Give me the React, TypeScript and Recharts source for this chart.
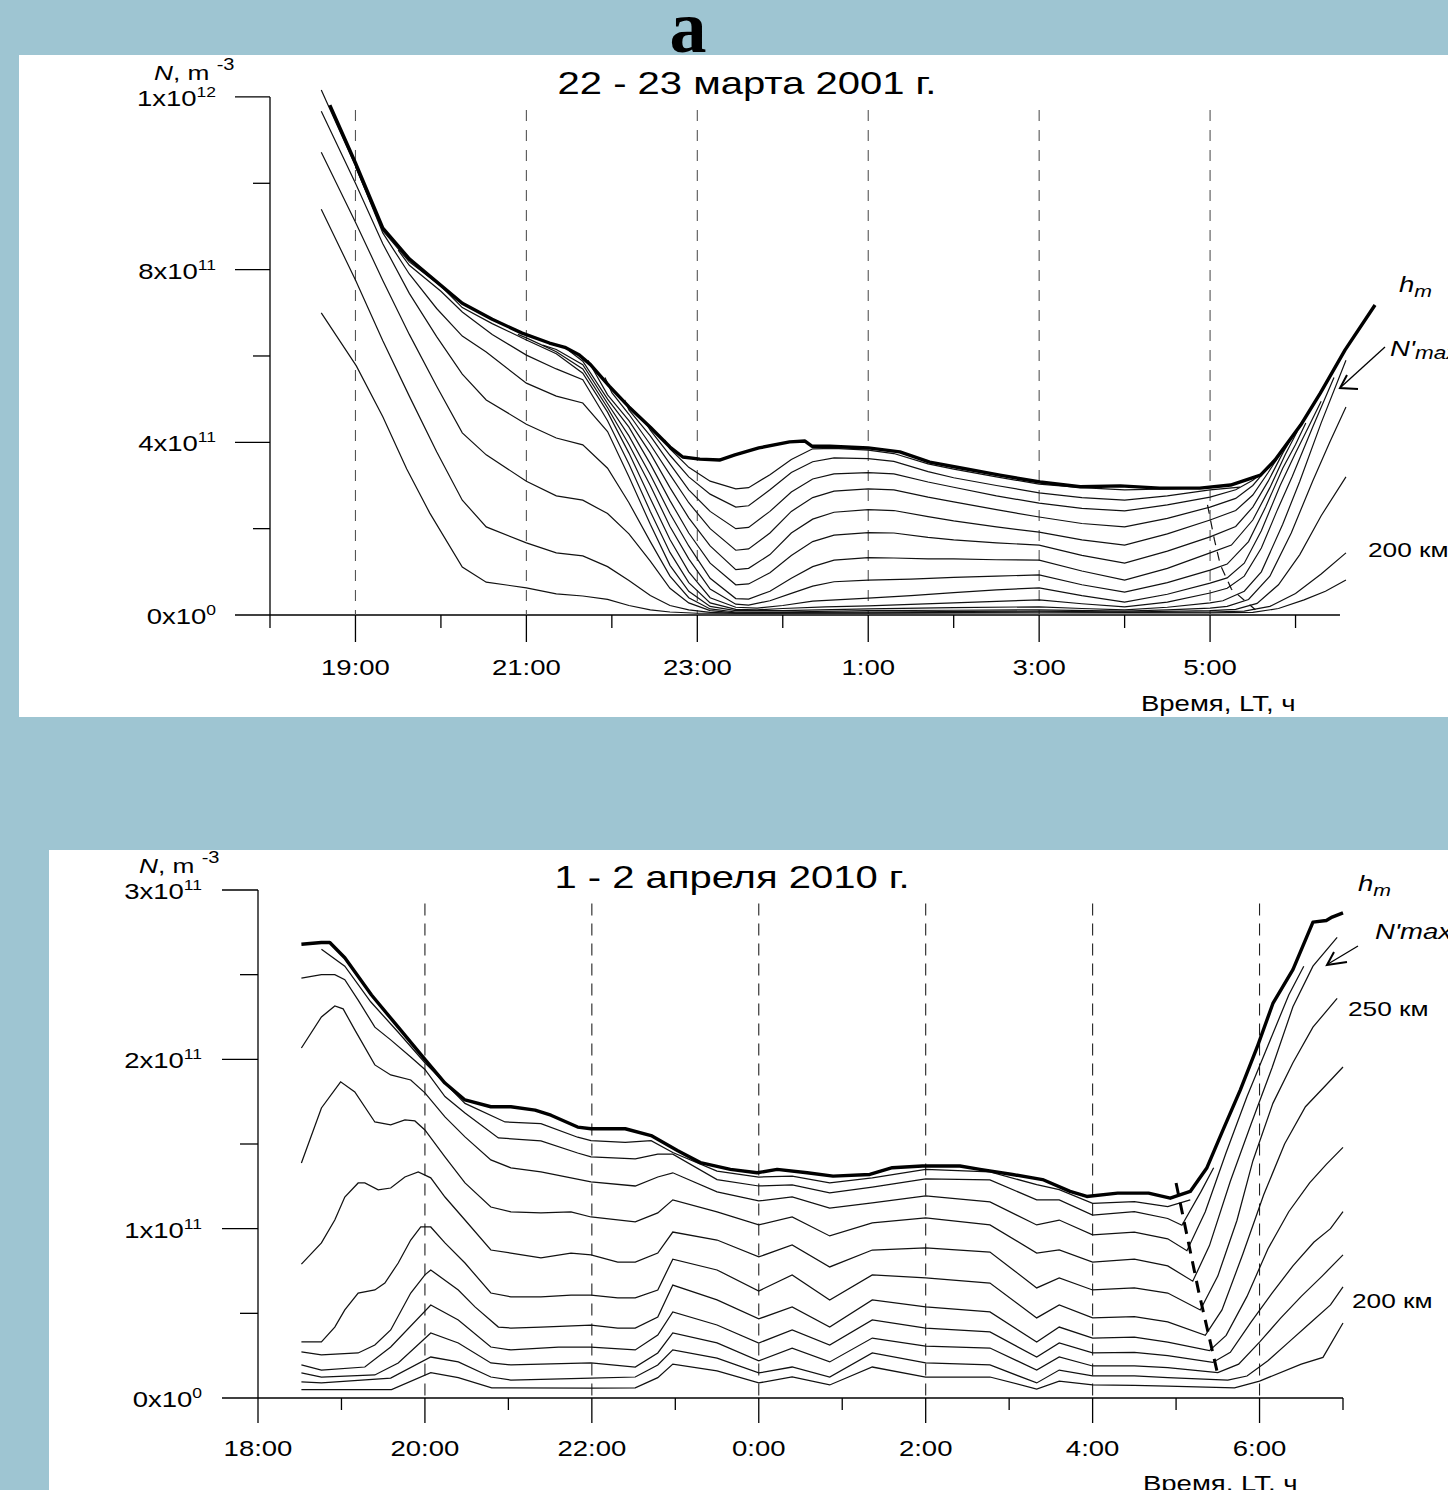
import React from "react";
import { LineChart, Line, XAxis, YAxis, ReferenceLine } from "recharts";

// values in units of 1e11 m^-3, time in hours after midnight of the first day (25 = 1:00)
const TOP_HM = [[18.7,11.81],[19.0,10.47],[19.32,8.96],[19.63,8.25],[19.87,7.85],[20.25,7.22],[20.6,6.85],[20.95,6.53],[21.27,6.3],[21.45,6.2],[21.62,6.02],[21.75,5.8],[21.97,5.3],[22.2,4.82],[22.45,4.35],[22.68,3.89],[22.83,3.66],[23.03,3.61],[23.26,3.59],[23.44,3.71],[23.72,3.87],[24.08,4.01],[24.26,4.03],[24.34,3.91],[24.55,3.91],[25.0,3.87],[25.37,3.78],[25.72,3.54],[26.07,3.41],[26.54,3.24],[27.01,3.08],[27.48,2.97],[27.95,2.99],[28.41,2.94],[28.88,2.94],[29.24,3.01],[29.59,3.24],[29.76,3.59],[30.06,4.4],[30.29,5.14],[30.58,6.14],[30.93,7.18]];
const TOP_K1 = [[22.62,4.05],[22.68,3.85],[22.9,3.42],[23.15,3.1],[23.45,2.92],[23.6,2.95],[23.85,3.25],[24.1,3.6],[24.35,3.85],[24.6,3.86],[25.0,3.82],[25.3,3.74],[25.7,3.5],[26.0,3.38],[26.5,3.2],[27.0,3.03],[27.5,2.95],[28.0,2.9],[28.5,2.92],[29.0,2.95],[29.15,2.98]];
const TOP_K2 = [[22.38,4.5],[22.45,4.28],[22.68,3.7],[22.9,3.2],[23.15,2.8],[23.45,2.5],[23.6,2.53],[23.85,2.9],[24.1,3.3],[24.35,3.55],[24.6,3.64],[25.0,3.62],[25.3,3.56],[25.7,3.32],[26.0,3.18],[26.5,3.0],[27.0,2.83],[27.5,2.72],[28.0,2.66],[28.5,2.76],[29.0,2.9],[29.35,2.96]];
const TOP_K3 = [[22.15,4.98],[22.2,4.75],[22.45,4.15],[22.68,3.5],[22.9,2.9],[23.15,2.4],[23.45,2.0],[23.6,2.03],[23.85,2.4],[24.1,2.85],[24.35,3.15],[24.6,3.27],[25.0,3.3],[25.3,3.27],[25.7,3.08],[26.0,2.96],[26.5,2.76],[27.0,2.59],[27.5,2.47],[28.0,2.41],[28.5,2.55],[29.0,2.73],[29.3,2.9],[29.5,3.12],[29.7,3.43]];
const TOP_K4 = [[21.92,5.5],[22.0,5.15],[22.2,4.65],[22.45,3.95],[22.68,3.25],[22.9,2.6],[23.15,2.0],[23.45,1.5],[23.6,1.53],[23.85,1.9],[24.1,2.4],[24.35,2.72],[24.6,2.87],[25.0,2.92],[25.3,2.9],[25.7,2.73],[26.0,2.62],[26.5,2.44],[27.0,2.27],[27.5,2.12],[28.0,2.04],[28.5,2.24],[29.0,2.5],[29.3,2.7],[29.5,3.0],[29.68,3.42],[29.78,3.62]];
const TOP_K5 = [[21.72,5.9],[21.95,5.1],[22.2,4.5],[22.45,3.75],[22.68,2.95],[22.9,2.25],[23.15,1.6],[23.45,1.05],[23.6,1.08],[23.85,1.4],[24.1,1.9],[24.35,2.22],[24.6,2.38],[25.0,2.44],[25.3,2.42],[25.7,2.28],[26.0,2.18],[26.5,2.04],[27.0,1.92],[27.5,1.74],[28.0,1.62],[28.5,1.88],[29.0,2.2],[29.3,2.42],[29.5,2.78],[29.68,3.3],[29.85,3.82]];
const TOP_K6 = [[21.5,6.12],[21.66,5.88],[21.95,5.0],[22.2,4.35],[22.45,3.5],[22.68,2.65],[22.9,1.9],[23.15,1.2],[23.45,0.7],[23.6,0.72],[23.85,0.98],[24.1,1.38],[24.35,1.7],[24.6,1.85],[25.0,1.91],[25.3,1.9],[25.7,1.8],[26.0,1.74],[26.5,1.67],[27.0,1.62],[27.5,1.38],[28.0,1.2],[28.5,1.48],[29.0,1.81],[29.3,2.05],[29.5,2.5],[29.68,3.1],[29.85,3.75],[29.93,4.02]];
const TOP_K7 = [[21.19,6.25],[21.35,6.15],[21.66,5.8],[21.95,4.9],[22.2,4.15],[22.45,3.25],[22.68,2.35],[22.9,1.6],[23.15,0.85],[23.45,0.38],[23.6,0.37],[23.85,0.55],[24.1,0.85],[24.35,1.12],[24.6,1.27],[25.0,1.33],[25.3,1.32],[25.7,1.3],[26.0,1.3],[26.5,1.28],[27.0,1.27],[27.5,1.02],[28.0,0.81],[28.5,1.08],[29.0,1.44],[29.25,1.62],[29.5,2.2],[29.7,2.95],[29.88,3.72],[30.02,4.25]];
const TOP_K8 = [[20.9,6.5],[21.0,6.42],[21.35,6.1],[21.66,5.7],[21.95,4.8],[22.2,3.95],[22.45,3.0],[22.68,2.05],[22.9,1.3],[23.15,0.6],[23.45,0.25],[23.6,0.23],[23.85,0.33],[24.1,0.5],[24.35,0.67],[24.6,0.77],[25.0,0.81],[25.5,0.83],[26.0,0.87],[26.5,0.9],[27.0,0.93],[27.5,0.7],[28.0,0.53],[28.5,0.75],[29.0,1.04],[29.2,1.18],[29.45,1.7],[29.65,2.5],[29.85,3.4],[30.0,3.95],[30.12,4.45]];
const TOP_K9 = [[19.0,10.38],[19.32,8.9],[19.63,8.18],[20.0,7.62],[20.25,7.12],[20.6,6.75],[21.0,6.37],[21.35,6.05],[21.66,5.6],[21.95,4.7],[22.2,3.75],[22.45,2.7],[22.68,1.75],[22.9,1.0],[23.15,0.4],[23.45,0.18],[23.7,0.16],[24.0,0.22],[24.35,0.32],[25.0,0.39],[25.5,0.45],[26.0,0.52],[26.5,0.58],[27.0,0.63],[27.5,0.45],[28.0,0.3],[28.5,0.48],[29.0,0.74],[29.2,0.86],[29.4,1.2],[29.6,1.95],[29.82,3.0],[30.0,3.75],[30.15,4.35],[30.3,4.95]];
const TOP_K10 = [[19.5,8.45],[19.63,8.1],[20.0,7.5],[20.25,7.02],[20.6,6.5],[21.0,6.02],[21.35,5.7],[21.66,5.45],[21.95,4.5],[22.2,3.5],[22.45,2.4],[22.68,1.45],[22.9,0.75],[23.15,0.28],[23.45,0.13],[23.7,0.12],[24.0,0.15],[24.5,0.19],[25.0,0.21],[26.0,0.28],[27.0,0.35],[27.5,0.26],[28.0,0.19],[28.5,0.3],[29.0,0.51],[29.2,0.62],[29.4,0.9],[29.6,1.55],[29.78,2.4],[29.96,3.2],[30.2,4.35],[30.45,5.5]];
const TOP_K11 = [[18.6,12.16],[19.0,10.4],[19.32,8.85],[19.63,7.9],[19.95,7.1],[20.25,6.46],[20.53,6.09],[21.0,5.37],[21.35,5.07],[21.66,4.91],[21.95,4.25],[22.2,3.2],[22.45,2.1],[22.68,1.15],[22.9,0.55],[23.15,0.2],[23.45,0.1],[24.0,0.1],[25.0,0.14],[26.0,0.17],[27.0,0.19],[27.5,0.15],[28.0,0.12],[28.5,0.18],[29.0,0.28],[29.15,0.33],[29.4,0.55],[29.6,1.0],[29.85,2.1],[30.05,3.1],[30.3,4.45],[30.59,5.9]];
const TOP_K12 = [[18.6,11.67],[19.0,10.0],[19.32,8.6],[19.63,7.45],[19.95,6.45],[20.25,5.58],[20.53,4.98],[21.0,4.42],[21.35,4.1],[21.66,3.94],[21.95,3.4],[22.2,2.6],[22.45,1.7],[22.68,0.9],[22.9,0.4],[23.15,0.14],[23.45,0.07],[24.0,0.07],[25.0,0.1],[26.0,0.11],[27.0,0.12],[28.0,0.09],[28.5,0.12],[29.0,0.16],[29.2,0.2],[29.45,0.36],[29.7,0.9],[29.95,1.9],[30.2,3.1],[30.4,4.0],[30.59,4.82]];
const TOP_K13 = [[18.6,10.72],[19.0,9.1],[19.32,7.75],[19.63,6.5],[19.95,5.3],[20.25,4.22],[20.53,3.71],[21.0,3.1],[21.35,2.76],[21.66,2.66],[21.95,2.35],[22.2,1.88],[22.45,1.25],[22.68,0.62],[22.9,0.28],[23.15,0.1],[23.45,0.05],[25.0,0.07],[27.0,0.09],[28.0,0.07],[29.0,0.1],[29.3,0.13],[29.55,0.27],[29.8,0.7],[30.05,1.4],[30.3,2.3],[30.59,3.2]];
const TOP_K14 = [[18.6,9.4],[19.0,7.76],[19.32,6.35],[19.63,5.07],[19.95,3.78],[20.25,2.66],[20.53,2.04],[21.0,1.67],[21.35,1.44],[21.66,1.37],[21.95,1.12],[22.2,0.8],[22.45,0.45],[22.68,0.22],[22.9,0.12],[23.15,0.06],[23.45,0.04],[25.0,0.05],[27.0,0.07],[28.0,0.06],[29.0,0.07],[29.4,0.09],[29.7,0.2],[30.0,0.5],[30.3,0.95],[30.59,1.44]];
const TOP_K15 = [[18.6,7.0],[19.01,5.77],[19.32,4.59],[19.6,3.38],[19.87,2.36],[20.25,1.11],[20.53,0.76],[21.0,0.63],[21.35,0.49],[21.66,0.44],[21.95,0.36],[22.2,0.22],[22.45,0.12],[22.68,0.07],[23.0,0.04],[25.0,0.04],[28.0,0.05],[29.0,0.05],[29.5,0.06],[29.8,0.15],[30.1,0.35],[30.35,0.55],[30.59,0.81]];
const TOP_MIN_DASH = [[28.97,2.55],[29.05,1.75],[29.12,1.16],[29.25,0.6],[29.53,0.12]];

const BOT_HM = [[18.52,2.68],[18.76,2.69],[18.86,2.69],[19.04,2.6],[19.36,2.38],[19.68,2.19],[20.0,2.0],[20.24,1.86],[20.48,1.76],[20.79,1.72],[21.03,1.72],[21.32,1.7],[21.51,1.67],[21.83,1.6],[21.99,1.59],[22.4,1.59],[22.71,1.55],[23.03,1.46],[23.3,1.39],[23.66,1.35],[23.98,1.33],[24.22,1.35],[24.58,1.33],[24.89,1.31],[25.33,1.32],[25.6,1.36],[25.96,1.37],[26.41,1.37],[26.65,1.35],[27.04,1.32],[27.4,1.29],[27.73,1.22],[27.93,1.19],[28.3,1.21],[28.67,1.21],[28.93,1.18],[29.17,1.22],[29.37,1.36],[29.56,1.58],[29.77,1.82],[29.97,2.07],[30.16,2.33],[30.4,2.53],[30.64,2.81],[30.8,2.82],[30.87,2.84],[31.0,2.865]];
const BOT_B1 = [[18.76,2.65],[19.04,2.55],[19.35,2.34],[19.68,2.16],[20.0,1.98],[20.48,1.74],[20.96,1.63],[21.39,1.62],[21.83,1.54],[21.99,1.52],[22.4,1.51],[22.71,1.52],[22.97,1.45],[23.5,1.34],[24.0,1.305],[24.4,1.31],[24.85,1.27],[25.36,1.3],[26.0,1.35],[26.77,1.335],[27.33,1.26],[27.6,1.23],[28.0,1.15],[28.5,1.16],[28.9,1.13],[29.17,1.17]];
const BOT_B2 = [[18.52,2.48],[18.76,2.5],[18.92,2.5],[19.04,2.47],[19.2,2.35],[19.4,2.19],[19.59,2.115],[19.83,2.014],[20.0,1.94],[20.24,1.78],[20.48,1.683],[20.88,1.536],[21.39,1.518],[21.83,1.447],[21.99,1.424],[22.52,1.412],[22.79,1.44],[22.97,1.44],[23.5,1.29],[24.0,1.252],[24.4,1.258],[24.85,1.211],[25.36,1.246],[26.0,1.294],[26.77,1.288],[27.33,1.17],[27.6,1.17],[28.0,1.08],[28.5,1.1],[28.9,1.06],[29.07,1.02],[29.3,1.22],[29.45,1.36]];
const BOT_B3 = [[18.52,2.067],[18.76,2.25],[18.92,2.315],[19.02,2.298],[19.16,2.174],[19.4,1.967],[19.59,1.908],[19.83,1.878],[20.0,1.802],[20.24,1.66],[20.48,1.542],[20.79,1.406],[21.03,1.359],[21.39,1.335],[21.99,1.276],[22.52,1.252],[22.79,1.305],[22.97,1.33],[23.5,1.217],[24.0,1.164],[24.4,1.187],[24.85,1.122],[25.36,1.152],[26.0,1.193],[26.77,1.158],[27.33,1.022],[27.6,1.051],[28.0,0.963],[28.5,0.98],[28.9,0.94],[29.13,0.87],[29.35,1.1],[29.6,1.45],[29.85,1.78],[30.1,2.08],[30.35,2.38],[30.53,2.55]];
const BOT_B4 = [[18.52,1.388],[18.76,1.713],[18.99,1.867],[19.16,1.807],[19.4,1.63],[19.59,1.613],[19.76,1.642],[19.88,1.636],[20.0,1.583],[20.24,1.424],[20.48,1.27],[20.79,1.128],[21.03,1.099],[21.39,1.093],[21.75,1.099],[21.99,1.069],[22.52,1.04],[22.79,1.093],[22.97,1.17],[23.5,1.099],[24.0,1.022],[24.4,1.069],[24.85,0.957],[25.36,1.034],[26.0,1.063],[26.77,1.022],[27.33,0.856],[27.6,0.874],[28.0,0.803],[28.5,0.82],[28.9,0.78],[29.2,0.69],[29.4,0.9],[29.65,1.28],[29.9,1.62],[30.15,1.95],[30.4,2.31],[30.64,2.55],[30.93,2.72]];
const BOT_B5 = [[18.52,0.791],[18.76,0.916],[18.92,1.051],[19.04,1.187],[19.2,1.27],[19.28,1.27],[19.44,1.229],[19.59,1.24],[19.76,1.305],[19.92,1.335],[20.07,1.3],[20.24,1.187],[20.48,1.051],[20.79,0.874],[21.03,0.856],[21.39,0.827],[21.75,0.856],[21.99,0.845],[22.31,0.803],[22.52,0.803],[22.79,0.856],[22.97,0.98],[23.5,0.933],[24.0,0.833],[24.4,0.904],[24.85,0.774],[25.36,0.874],[26.0,0.886],[26.77,0.862],[27.33,0.65],[27.6,0.709],[28.0,0.638],[28.5,0.65],[28.9,0.62],[29.29,0.52],[29.5,0.72],[29.73,1.05],[29.92,1.4],[30.16,1.74],[30.4,1.98],[30.64,2.19],[30.93,2.36]];
const BOT_B6 = [[18.52,0.331],[18.76,0.331],[18.92,0.419],[19.04,0.52],[19.2,0.62],[19.4,0.638],[19.52,0.679],[19.68,0.797],[19.83,0.933],[19.95,1.01],[20.07,1.01],[20.24,0.916],[20.48,0.797],[20.79,0.62],[21.03,0.597],[21.39,0.597],[21.75,0.608],[21.99,0.608],[22.31,0.591],[22.52,0.591],[22.79,0.638],[22.97,0.82],[23.5,0.756],[24.0,0.632],[24.4,0.727],[24.85,0.579],[25.36,0.727],[26.0,0.709],[26.77,0.679],[27.33,0.473],[27.6,0.549],[28.0,0.473],[28.5,0.48],[28.9,0.45],[29.35,0.37],[29.55,0.52],[29.8,0.85],[30.05,1.2],[30.3,1.5],[30.55,1.72],[30.8,1.85],[31.0,1.955]];
const BOT_B7 = [[18.52,0.272],[18.76,0.254],[19.2,0.266],[19.4,0.313],[19.59,0.402],[19.83,0.62],[20.0,0.727],[20.07,0.756],[20.4,0.638],[20.6,0.538],[20.88,0.419],[21.03,0.413],[21.39,0.419],[21.99,0.431],[22.31,0.413],[22.52,0.413],[22.79,0.478],[22.97,0.667],[23.5,0.579],[24.0,0.467],[24.4,0.538],[24.85,0.419],[25.36,0.579],[26.0,0.538],[26.77,0.508],[27.33,0.331],[27.6,0.419],[28.0,0.354],[28.5,0.36],[28.9,0.33],[29.4,0.28],[29.6,0.37],[29.85,0.6],[30.1,0.88],[30.35,1.1],[30.6,1.27],[30.8,1.38],[31.0,1.48]];
const BOT_B8 = [[18.52,0.195],[18.76,0.165],[19.28,0.183],[19.59,0.301],[20.07,0.549],[20.4,0.461],[20.79,0.301],[21.03,0.284],[21.6,0.301],[21.99,0.301],[22.52,0.284],[22.79,0.372],[22.97,0.508],[23.5,0.431],[24.0,0.325],[24.4,0.402],[24.85,0.313],[25.36,0.461],[26.0,0.413],[26.77,0.39],[27.33,0.242],[27.6,0.325],[28.0,0.266],[28.5,0.27],[28.9,0.25],[29.44,0.21],[29.65,0.27],[29.9,0.45],[30.15,0.62],[30.4,0.78],[30.65,0.92],[30.85,1.0],[31.0,1.1]];
const BOT_B9 = [[18.52,0.148],[18.76,0.124],[19.4,0.136],[19.68,0.207],[20.07,0.384],[20.4,0.325],[20.79,0.207],[21.03,0.195],[21.99,0.207],[22.52,0.183],[22.79,0.266],[22.97,0.384],[23.5,0.325],[24.0,0.219],[24.4,0.295],[24.85,0.213],[25.36,0.354],[26.0,0.307],[26.77,0.295],[27.33,0.165],[27.6,0.242],[28.0,0.189],[28.5,0.19],[28.9,0.18],[29.5,0.15],[29.75,0.2],[30.0,0.33],[30.25,0.47],[30.5,0.6],[30.75,0.72],[31.0,0.845]];
const BOT_B10 = [[18.52,0.095],[18.76,0.089],[19.59,0.118],[20.07,0.242],[20.4,0.213],[20.79,0.124],[21.03,0.106],[21.99,0.118],[22.52,0.124],[22.79,0.195],[22.97,0.284],[23.5,0.236],[24.0,0.148],[24.4,0.183],[24.85,0.124],[25.36,0.266],[26.0,0.207],[26.77,0.195],[27.33,0.089],[27.6,0.165],[28.0,0.13],[28.5,0.13],[28.9,0.12],[29.62,0.106],[29.85,0.13],[30.1,0.22],[30.35,0.33],[30.6,0.44],[30.85,0.55],[31.0,0.656]];
const BOT_B11 = [[18.52,0.05],[19.6,0.05],[20.07,0.15],[20.4,0.12],[20.8,0.06],[22.0,0.059],[22.52,0.06],[22.79,0.12],[22.97,0.2],[23.5,0.16],[24.0,0.089],[24.4,0.124],[24.85,0.077],[25.36,0.183],[26.0,0.124],[26.77,0.124],[27.33,0.053],[27.6,0.1],[28.0,0.077],[28.5,0.075],[28.9,0.07],[29.7,0.06],[30.0,0.1],[30.5,0.2],[30.76,0.24],[31.0,0.443]];
const BOT_MIN_DASH = [[29.0,1.27],[29.27,0.63],[29.49,0.16]];

const TOP_THIN = [TOP_K1, TOP_K2, TOP_K3, TOP_K4, TOP_K5, TOP_K6, TOP_K7, TOP_K8, TOP_K9, TOP_K10, TOP_K11, TOP_K12, TOP_K13, TOP_K14, TOP_K15];
const BOT_THIN = [BOT_B1, BOT_B2, BOT_B3, BOT_B4, BOT_B5, BOT_B6, BOT_B7, BOT_B8, BOT_B9, BOT_B10, BOT_B11];

const TOP_HOURS = [18, 19, 20, 21, 22, 23, 24, 25, 26, 27, 28, 29, 30];
const BOT_HOURS = [18, 19, 20, 21, 22, 23, 24, 25, 26, 27, 28, 29, 30, 31];
const TOP_GRID = [19, 21, 23, 25, 27, 29];
const BOT_GRID = [20, 22, 24, 26, 28, 30];
const TOP_YTICKS = [0, 2, 4, 6, 8, 10, 12];
const BOT_YTICKS = [0, 0.5, 1, 1.5, 2, 2.5, 3];
const TOP_YLABELS: Record<number, [string, string]> = { 0: ["0x10", "0"], 4: ["4x10", "11"], 8: ["8x10", "11"], 12: ["1x10", "12"] };
const BOT_YLABELS: Record<number, [string, string]> = { 0: ["0x10", "0"], 1: ["1x10", "11"], 2: ["2x10", "11"], 3: ["3x10", "11"] };

const FONT = "'Liberation Sans', Arial, sans-serif";
const S = 1.25; // the original figure is stretched horizontally
const BG = "#9ec5d2";

const toPts = (a: number[][]) => a.map(([t, v]) => ({ t, v }));
const hourLabel = (h: number) => `${h % 24}:00`;

function SText({ x, y, anchor = "start", size = 22, children, family = FONT, weight = "normal" }: any) {
  return (
    <text transform={`translate(${x} ${y}) scale(${S} 1)`} textAnchor={anchor} fontSize={size} fontFamily={family} fontWeight={weight} fill="#000">
      {children}
    </text>
  );
}

const makeXTick = (majorOdd: boolean, longLen: number, shortLen: number, labelDy: number) => (p: any) => {
  const h = p.payload.value;
  const major = majorOdd ? h % 2 === 1 : h % 2 === 0;
  return (
    <g>
      <line x1={p.x} y1={p.y} x2={p.x} y2={p.y + (major ? longLen : shortLen)} stroke="#000" strokeWidth={1.3} />
      {major && <SText x={p.x} y={p.y + labelDy} anchor="middle">{hourLabel(h)}</SText>}
    </g>
  );
};

const makeYTick = (labels: Record<number, [string, string]>, longLen: number, shortLen: number, gap: number) => (p: any) => {
  const v = p.payload.value;
  const lab = labels[v];
  return (
    <g>
      <line x1={p.x - (lab ? longLen : shortLen)} y1={p.y} x2={p.x} y2={p.y} stroke="#000" strokeWidth={1.3} />
      {lab && (
        <SText x={p.x - gap} y={p.y + 9} anchor="end">
          {lab[0]}
          <tspan dy={-9} fontSize={14}>{lab[1]}</tspan>
        </SText>
      )}
    </g>
  );
};

function TopChart() {
  return (
    <div style={{ position: "absolute", left: 19, top: 55, width: 1429, height: 662, background: "#fff" }}>
      <LineChart width={1429} height={662} margin={{ top: 29, right: 67, bottom: 72, left: 191 }}>
        <XAxis dataKey="t" type="number" domain={[18, 31]} ticks={TOP_HOURS} interval={0} tick={makeXTick(true, 27, 13, 60)} tickLine={false} axisLine={false} tickSize={0} tickMargin={0} height={30} />
        <YAxis type="number" domain={[0, 12.3]} ticks={TOP_YTICKS} interval={0} tick={makeYTick(TOP_YLABELS, 35, 17, 54)} tickLine={false} axisLine={false} tickSize={0} tickMargin={0} width={60} />
        <ReferenceLine segment={[{ x: 18, y: 0 }, { x: 30.52, y: 0 }]} stroke="#000" strokeWidth={1.3} />
        <ReferenceLine segment={[{ x: 18, y: 0 }, { x: 18, y: 12 }]} stroke="#000" strokeWidth={1.3} />
        {TOP_GRID.map((h) => (
          <ReferenceLine key={"g" + h} segment={[{ x: h, y: 11.7 }, { x: h, y: 0 }]} stroke="#555" strokeWidth={1.1} strokeDasharray="11 9" />
        ))}
        {TOP_THIN.map((arr, i) => (
          <Line key={"k" + i} data={toPts(arr)} dataKey="v" type="linear" stroke="#111" strokeWidth={1.2} dot={false} isAnimationActive={false} />
        ))}
        <Line data={toPts(TOP_MIN_DASH)} dataKey="v" type="linear" stroke="#111" strokeWidth={1.2} strokeDasharray="9 7" dot={false} isAnimationActive={false} />
        <Line data={toPts(TOP_HM)} dataKey="v" type="linear" stroke="#000" strokeWidth={3.4} strokeLinejoin="round" dot={false} isAnimationActive={false} />
      </LineChart>
    </div>
  );
}

function BottomChart() {
  return (
    <div style={{ position: "absolute", left: 49, top: 850, width: 1399, height: 640, background: "#fff" }}>
      <LineChart width={1399} height={640} margin={{ top: 40, right: 105, bottom: 62, left: 149 }}>
        <XAxis dataKey="t" type="number" domain={[18, 31]} ticks={BOT_HOURS} interval={0} tick={makeXTick(false, 25, 12, 58)} tickLine={false} axisLine={{ stroke: "#000", strokeWidth: 1.3 }} tickSize={0} tickMargin={0} height={30} />
        <YAxis type="number" domain={[0, 3]} ticks={BOT_YTICKS} interval={0} tick={makeYTick(BOT_YLABELS, 36, 18, 56)} tickLine={false} axisLine={{ stroke: "#000", strokeWidth: 1.3 }} tickSize={0} tickMargin={0} width={60} />
        {BOT_GRID.map((h) => (
          <ReferenceLine key={"g" + h} segment={[{ x: h, y: 2.92 }, { x: h, y: 0 }]} stroke="#222" strokeWidth={1.1} strokeDasharray="12 8" />
        ))}
        {BOT_THIN.map((arr, i) => (
          <Line key={"b" + i} data={toPts(arr)} dataKey="v" type="linear" stroke="#111" strokeWidth={1.25} dot={false} isAnimationActive={false} />
        ))}
        <Line data={toPts(BOT_MIN_DASH)} dataKey="v" type="linear" stroke="#000" strokeWidth={3} strokeDasharray="12 8" dot={false} isAnimationActive={false} />
        <Line data={toPts(BOT_HM)} dataKey="v" type="linear" stroke="#000" strokeWidth={3.4} strokeLinejoin="round" dot={false} isAnimationActive={false} />
      </LineChart>
    </div>
  );
}

function Overlay() {
  return (
    <svg width={1448} height={1490} style={{ position: "absolute", left: 0, top: 0, pointerEvents: "none" }}>
      <text x={688} y={52} textAnchor="middle" fontFamily="'Liberation Serif', 'Times New Roman', serif" fontWeight="bold" fontSize={74} fill="#000">а</text>

      <SText x={747} y={94} anchor="middle" size={32}>22 - 23 марта 2001 г.</SText>
      <SText x={154} y={80} size={21}>
        <tspan fontStyle="italic">N</tspan>, m <tspan dy={-10} fontSize={16}>-3</tspan>
      </SText>
      <SText x={1141} y={711} size={22}>Время, LT, ч</SText>
      <SText x={1399} y={292} size={22}>
        <tspan fontStyle="italic">h</tspan>
        <tspan fontStyle="italic" fontSize={17} dy={5}>m</tspan>
      </SText>
      <SText x={1390} y={356} size={22}>
        <tspan fontStyle="italic">N'</tspan>
        <tspan fontStyle="italic" fontSize={18} dy={3}>max</tspan>
      </SText>
      <line x1={1385} y1={347} x2={1341} y2={387} stroke="#000" strokeWidth={1.3} />
      <polyline points="1347,375 1340,388 1358,389" fill="none" stroke="#000" strokeWidth={2} />
      <SText x={1368} y={557} size={21}>200 км</SText>

      <SText x={732} y={888} anchor="middle" size={32}>1 - 2 апреля 2010 г.</SText>
      <SText x={139} y={873} size={21}>
        <tspan fontStyle="italic">N</tspan>, m <tspan dy={-10} fontSize={16}>-3</tspan>
      </SText>
      <SText x={1143} y={1491} size={22}>Время, LT, ч</SText>
      <SText x={1358} y={891} size={22}>
        <tspan fontStyle="italic">h</tspan>
        <tspan fontStyle="italic" fontSize={17} dy={5}>m</tspan>
      </SText>
      <SText x={1375} y={939} size={22}>
        <tspan fontStyle="italic">N'max</tspan>
      </SText>
      <line x1={1358} y1={946} x2={1328} y2={964} stroke="#000" strokeWidth={1.3} />
      <polyline points="1334,952 1327,965 1347,962" fill="none" stroke="#000" strokeWidth={2} />
      <SText x={1348} y={1016} size={21}>250 км</SText>
      <SText x={1352} y={1308} size={21}>200 км</SText>
    </svg>
  );
}

export default function App() {
  return (
    <div style={{ position: "absolute", left: 0, top: 0, width: 1448, height: 1490, background: BG, overflow: "hidden" }}>
      <TopChart />
      <BottomChart />
      <Overlay />
    </div>
  );
}
